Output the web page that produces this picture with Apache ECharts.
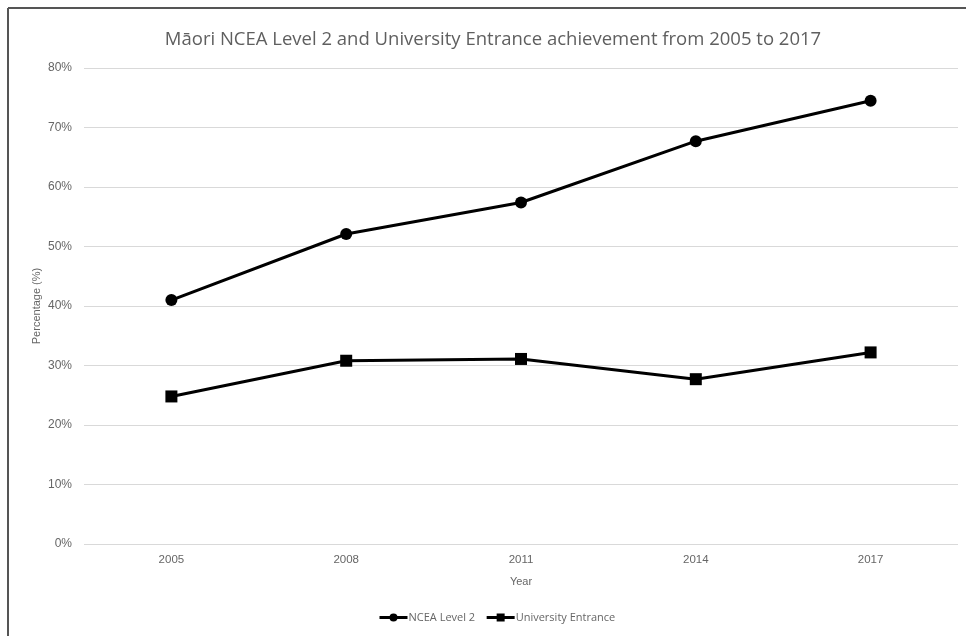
<!DOCTYPE html>
<html>
<head>
<meta charset="utf-8">
<title>Māori NCEA Level 2 and University Entrance achievement</title>
<script src="https://cdn.jsdelivr.net/npm/echarts@6/dist/echarts.min.js"></script>
<style>
  html, body { margin: 0; padding: 0; background: #fff; }
  #chart { width: 966px; height: 636px; }
</style>
</head>
<body>
<div id="chart"></div>
<script>
// values (percent)
var years = ['2005', '2008', '2011', '2014', '2017'];
var ncea = [41.0, 52.1, 57.4, 67.7, 74.5];
var ue = [24.8, 30.8, 31.1, 27.7, 32.2];

var grey = '#666';

var chart = echarts.init(document.getElementById('chart'));

chart.setOption({
  backgroundColor: '#fff',
  animation: false,
  title: {
    text: 'Māori NCEA Level 2 and University Entrance achievement from 2005 to 2017',
    left: 488,
    textAlign: 'center',
    top: 25,
    textStyle: { fontFamily: 'Open Sans', fontWeight: 'normal', fontSize: 18.5, color: '#5f5f5f' }
  },
  // frame lines at top and left of the picture
  graphic: [
    { type: 'line', shape: { x1: 8, y1: 8, x2: 966, y2: 8 }, style: { stroke: '#555', lineWidth: 2 } },
    { type: 'line', shape: { x1: 8, y1: 8, x2: 8, y2: 636 }, style: { stroke: '#555', lineWidth: 2 } }
  ],
  legend: {
    bottom: 8,
    left: 373,
    itemWidth: 28,
    itemHeight: 10,
    itemGap: 10,
    lineStyle: { width: 3 },
    textStyle: { fontFamily: 'Open Sans', fontSize: 11, color: grey, padding: [0, 0, 0, -4] },
    data: ['NCEA Level 2', 'University Entrance']
  },
  grid: { left: 84, right: 8, top: 68, bottom: 92 },
  xAxis: {
    type: 'category',
    data: years,
    name: 'Year',
    nameLocation: 'middle',
    nameGap: 32,
    nameTextStyle: { fontFamily: 'Liberation Sans', fontSize: 11, color: grey },
    axisLine: { show: false },
    axisTick: { show: false },
    axisLabel: { fontFamily: 'Liberation Sans', fontSize: 11.5, color: grey, margin: 10 }
  },
  yAxis: {
    type: 'value',
    min: 0,
    max: 80,
    interval: 10,
    name: 'Percentage (%)',
    nameLocation: 'middle',
    nameGap: 42,
    nameMoveOverlap: false,
    nameTextStyle: { fontFamily: 'Liberation Sans', fontSize: 11, color: grey },
    axisLine: { show: false },
    axisTick: { show: false },
    axisLabel: { fontFamily: 'Liberation Sans', fontSize: 12, color: grey, margin: 12, formatter: '{value}%' },
    splitLine: { lineStyle: { color: '#d9d9d9', width: 1 } }
  },
  series: [
    {
      name: 'NCEA Level 2',
      type: 'line',
      data: ncea,
      symbol: 'circle',
      symbolSize: 12,
      lineStyle: { color: '#000', width: 3 },
      itemStyle: { color: '#000' }
    },
    {
      name: 'University Entrance',
      type: 'line',
      data: ue,
      symbol: 'rect',
      symbolSize: 12,
      lineStyle: { color: '#000', width: 3 },
      itemStyle: { color: '#000' }
    }
  ]
});
</script>
</body>
</html>
